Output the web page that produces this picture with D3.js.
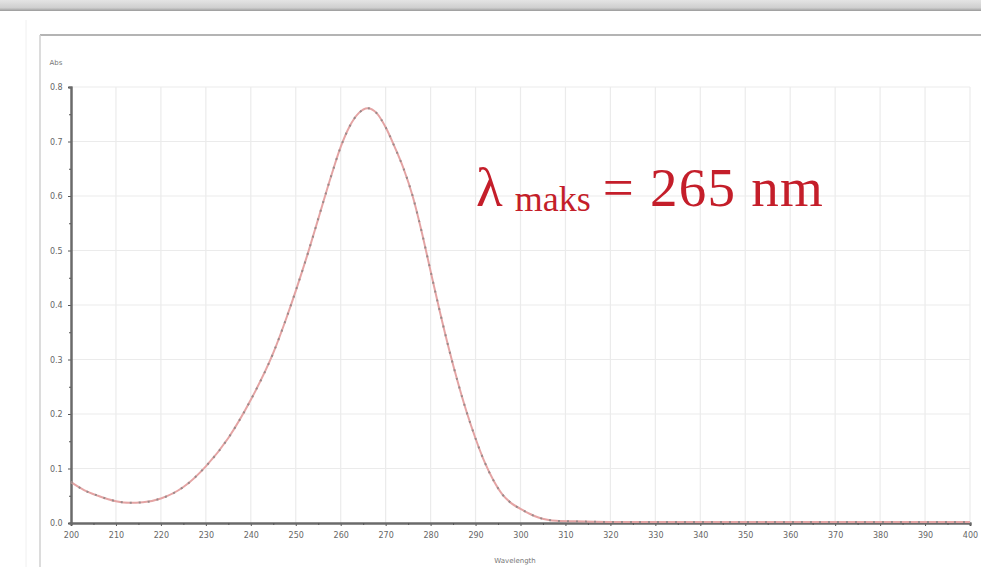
<!DOCTYPE html>
<html><head><meta charset="utf-8">
<script src="https://cdn.jsdelivr.net/npm/d3@7"></script>
<style>html,body{margin:0;padding:0;background:#fff;overflow:hidden}</style>
</head><body>
<svg id="c" width="981" height="567"></svg>
<script>
// Data
const wavelength = [200,203,206,210,213,216,220,225,230,235,240,245,248,250,253,255,258,260,262,264,266,268,270,272,274,276,278,280,282,284,286,288,290,292,294,296,298,300,302,304,306,308,312,320,330,340,350,360,370,380,390,400];
const absorbance = [0.075,0.060,0.050,0.040,0.037,0.038,0.045,0.066,0.104,0.156,0.226,0.312,0.378,0.426,0.503,0.558,0.640,0.690,0.728,0.752,0.761,0.752,0.726,0.690,0.650,0.600,0.535,0.462,0.390,0.322,0.260,0.204,0.155,0.112,0.078,0.052,0.036,0.026,0.017,0.010,0.006,0.004,0.003,0.002,0.002,0.002,0.002,0.002,0.002,0.002,0.002,0.002];
const xTicks = [200,210,220,230,240,250,260,270,280,290,300,310,320,330,340,350,360,370,380,390,400];
const yTicks = [0.0,0.1,0.2,0.3,0.4,0.5,0.6,0.7,0.8];
const yLabel = "Abs";
const xLabel = "Wavelength";
const annotation = {lambda:"λ", sub:"maks", rest:"= 265 nm"};

const svg = d3.select("#c");
// window chrome
const g0 = svg.append("defs").append("linearGradient").attr("id","bar").attr("x1",0).attr("x2",0).attr("y1",0).attr("y2",1);
g0.append("stop").attr("offset","0%").attr("stop-color","#e4e4e4");
g0.append("stop").attr("offset","70%").attr("stop-color","#cfcfcf");
g0.append("stop").attr("offset","100%").attr("stop-color","#9a9a9a");
svg.append("rect").attr("x",0).attr("y",0).attr("width",981).attr("height",11).attr("fill","url(#bar)");
svg.append("line").attr("x1",40).attr("x2",981).attr("y1",35).attr("y2",35).attr("stroke","#b4b4b4").attr("stroke-width",2);
svg.append("line").attr("x1",40).attr("x2",40).attr("y1",35).attr("y2",567).attr("stroke","#d0d0d0").attr("stroke-width",1.5);
svg.append("line").attr("x1",26).attr("x2",26).attr("y1",20).attr("y2",567).attr("stroke","#f0f0f0").attr("stroke-width",1);

const x = d3.scaleLinear().domain([200,400]).range([71,970]);
const y = d3.scaleLinear().domain([0,0.8]).range([523,87]);

// grid
svg.append("g").selectAll("line").data(xTicks.slice(1)).join("line")
  .attr("x1",d=>x(d)).attr("x2",d=>x(d)).attr("y1",y(0.8)).attr("y2",y(0))
  .attr("stroke","#ebebeb").attr("stroke-width",1.2);
svg.append("g").selectAll("line").data(yTicks.slice(1)).join("line")
  .attr("x1",x(200)).attr("x2",x(400)).attr("y1",d=>y(d)).attr("y2",d=>y(d))
  .attr("stroke","#ebebeb").attr("stroke-width",1.2);

// axes
const xa = svg.append("g").attr("transform",`translate(0,${y(0)})`)
  .call(d3.axisBottom(x).tickValues(xTicks).tickSize(3).tickFormat(d3.format("d")));
xa.append("g").call(d3.axisBottom(x).tickValues(d3.range(205,400,10)).tickSize(2).tickFormat(""));
const ya = svg.append("g").attr("transform",`translate(${x(200)},0)`)
  .call(d3.axisLeft(y).tickValues(yTicks).tickSize(3).tickFormat(d3.format(".1f")));
ya.append("g").call(d3.axisLeft(y).tickValues(d3.range(0.05,0.8,0.1)).tickSize(2).tickFormat(""));
[xa,ya].forEach(a=>{
  a.selectAll(".domain").attr("stroke","#6a6a6a").attr("stroke-width",2);
  a.selectAll("line").attr("stroke","#555");
  a.selectAll("text").attr("fill","#666").attr("font-family","DejaVu Sans").attr("font-size",8);
});
xa.selectAll("text").attr("dy","1.1em");
ya.selectAll("text").attr("dx","-0.3em");

svg.append("text").attr("x",56).attr("y",65).attr("text-anchor","middle")
  .attr("font-family","DejaVu Sans").attr("font-size",7).attr("fill","#777").text(yLabel);
svg.append("text").attr("x",515).attr("y",563).attr("text-anchor","middle")
  .attr("font-family","DejaVu Sans").attr("font-size",7).attr("fill","#777").text(xLabel);

// curve
const pts = wavelength.map((w,i)=>[w,absorbance[i]]);
const line = d3.line().x(d=>x(d[0])).y(d=>y(d[1])).curve(d3.curveMonotoneX);
svg.append("path").datum(pts).attr("d",line).attr("fill","none").attr("stroke","#e4a4a4").attr("stroke-width",2);
svg.append("path").datum(pts).attr("d",line).attr("fill","none").attr("stroke","#9a8a8a").attr("stroke-width",2).attr("stroke-dasharray","2,7");

// annotation
const t = svg.append("text").attr("x",476).attr("y",206).attr("fill","#c41e2a").attr("font-family","Liberation Serif, Times New Roman, serif");
t.append("tspan").attr("font-size",55).text(annotation.lambda);
t.append("tspan").attr("font-size",36).attr("dx",12).attr("dy",5).text(annotation.sub);
t.append("tspan").attr("font-size",55).attr("dx",12).attr("dy",-5).attr("textLength",220).text(annotation.rest);
</script>
</body></html>
